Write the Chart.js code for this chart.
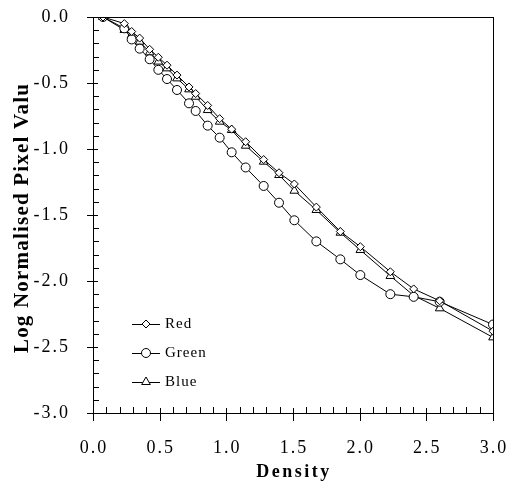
<!DOCTYPE html>
<html>
<head>
<meta charset="utf-8">
<script src="https://cdn.jsdelivr.net/npm/chart.js@4"></script>
<style>
  html, body { margin: 0; padding: 0; background: #fff; }
  #wrap { width: 510px; height: 482px; }
</style>
</head>
<body>
<div id="wrap"><canvas id="chart" width="510" height="482"></canvas></div>
<script>
const density = [0.075, 0.235, 0.29, 0.35, 0.425, 0.49, 0.555, 0.63, 0.72, 0.77, 0.86, 0.95, 1.04, 1.145, 1.28, 1.395, 1.51, 1.675, 1.855, 2.005, 2.23, 2.405, 2.6, 3.0];
const redVals = [0, -0.05, -0.11, -0.16, -0.245, -0.305, -0.365, -0.44, -0.53, -0.58, -0.67, -0.77, -0.85, -0.945, -1.08, -1.18, -1.265, -1.44, -1.625, -1.74, -1.93, -2.06, -2.15, -2.38];
const greenVals = [0, -0.086, -0.17, -0.24, -0.32, -0.40, -0.47, -0.553, -0.654, -0.712, -0.823, -0.914, -1.025, -1.14, -1.28, -1.407, -1.54, -1.70, -1.836, -1.955, -2.10, -2.12, -2.157, -2.33];
const blueVals = [0, -0.098, -0.136, -0.187, -0.268, -0.338, -0.389, -0.465, -0.548, -0.604, -0.705, -0.793, -0.856, -0.975, -1.096, -1.197, -1.316, -1.462, -1.634, -1.765, -1.962, -2.11, -2.207, -2.427];
const seriesNames = ['Red', 'Green', 'Blue'];
const xTicks = [0, 0.5, 1, 1.5, 2, 2.5, 3];
const yTicks = [0, -0.5, -1, -1.5, -2, -2.5, -3];
const xTitle = 'Density';
const yTitle = 'Log Normalised Pixel Valu';

const serif = "'Liberation Serif', 'DejaVu Serif', serif";

const toPoints = (vals) => density.map((d, i) => ({ x: d, y: vals[i] }));

const makeSet = (label, vals, style, radius) => ({
    label,
    data: toPoints(vals),
    borderColor: '#000',
    borderWidth: 1,
    backgroundColor: '#fff',
    pointStyle: style,
    pointRadius: radius,
    pointBorderColor: '#000',
    pointBorderWidth: 1,
    pointBackgroundColor: '#fff',
    tension: 0
});

// frame, ticks (major cross the axis, minor point inward), tick labels, axis titles
const axesPlugin = {
    id: 'axesPlugin',
    afterDraw(chart) {
        const { ctx, chartArea: a, scales: { x, y } } = chart;
        ctx.save();
        ctx.strokeStyle = '#000';
        ctx.lineWidth = 1;
        ctx.strokeRect(a.left + 0.5, a.top + 0.5, a.right - a.left, a.bottom - a.top);
        ctx.beginPath();
        for (let i = 0; i <= 30; i++) {
            const px = Math.round(x.getPixelForValue(i / 10)) + 0.5;
            if (i % 5 === 0) {
                ctx.moveTo(px, a.bottom - 5);
                ctx.lineTo(px, a.bottom + 8);
            } else {
                ctx.moveTo(px, a.bottom);
                ctx.lineTo(px, a.bottom - 6);
            }
            const py = Math.round(y.getPixelForValue(-i / 10)) + 0.5;
            if (i % 5 === 0) {
                ctx.moveTo(a.left - 6, py);
                ctx.lineTo(a.left + 5, py);
            } else {
                ctx.moveTo(a.left, py);
                ctx.lineTo(a.left + 6, py);
            }
        }
        ctx.stroke();

        ctx.fillStyle = '#000';
        ctx.font = '18px ' + serif;
        ctx.letterSpacing = '2px';
        ctx.textBaseline = 'middle';
        ctx.textAlign = 'center';
        xTicks.forEach(v => {
            ctx.fillText(v.toFixed(1), x.getPixelForValue(v) + 1, a.bottom + 35);
        });
        ctx.textAlign = 'right';
        yTicks.forEach(v => {
            ctx.fillText(v.toFixed(1), a.left - 23, y.getPixelForValue(v));
        });

        ctx.textAlign = 'center';
        ctx.font = 'bold 18px ' + serif;
        ctx.letterSpacing = '2.5px';
        ctx.fillText(xTitle, (a.left + a.right) / 2 + 1, a.bottom + 59);

        ctx.translate(a.left - 70, (a.top + a.bottom) / 2 + 3);
        ctx.rotate(-Math.PI / 2);
        ctx.font = 'bold 21px ' + serif;
        ctx.letterSpacing = '1.2px';
        ctx.fillText(yTitle, 0, 0);
        ctx.restore();
    }
};

// legend drawn inside the plot area
const innerLegend = {
    id: 'innerLegend',
    afterDatasetsDraw(chart) {
        const { ctx, chartArea: a } = chart;
        ctx.save();
        ctx.letterSpacing = '1px';
        chart.data.datasets.forEach((ds, i) => {
            const yy = a.top + 307 + i * 29;
            const x0 = a.left + 39;
            ctx.strokeStyle = '#000';
            ctx.lineWidth = 1;
            ctx.beginPath();
            ctx.moveTo(x0, yy + 0.5);
            ctx.lineTo(x0 + 28, yy + 0.5);
            ctx.stroke();
            ctx.fillStyle = '#fff';
            Chart.helpers.drawPoint(ctx, {
                pointStyle: ds.pointStyle,
                radius: ds.pointRadius,
                borderWidth: 1
            }, x0 + 14, yy);
            ctx.fillStyle = '#000';
            ctx.font = '15px ' + serif;
            ctx.textBaseline = 'middle';
            ctx.textAlign = 'left';
            ctx.fillText(ds.label, x0 + 33, yy);
        });
        ctx.restore();
    }
};

const canvas = document.getElementById('chart').getContext('2d');

const chart = new Chart(canvas, {
    type: 'line',
    data: {
        datasets: [
            makeSet(seriesNames[0], redVals, 'rectRot', 4),
            makeSet(seriesNames[1], greenVals, 'circle', 4.5),
            makeSet(seriesNames[2], blueVals, 'triangle', 5)
        ]
    },
    options: {
        responsive: false,
        animation: false,
        layout: { padding: { left: 0, top: 17, right: 17, bottom: 0 } },
        plugins: {
            legend: { display: false },
            tooltip: { enabled: false }
        },
        scales: {
            x: {
                type: 'linear',
                min: 0,
                max: 3,
                grid: { display: false },
                border: { display: false },
                ticks: { display: false },
                afterFit: (s) => { s.height = 69; }
            },
            y: {
                type: 'linear',
                min: -3,
                max: 0,
                grid: { display: false },
                border: { display: false },
                ticks: { display: false },
                afterFit: (s) => { s.width = 93; }
            }
        }
    },
    plugins: [axesPlugin, innerLegend]
});
</script>
</body>
</html>
